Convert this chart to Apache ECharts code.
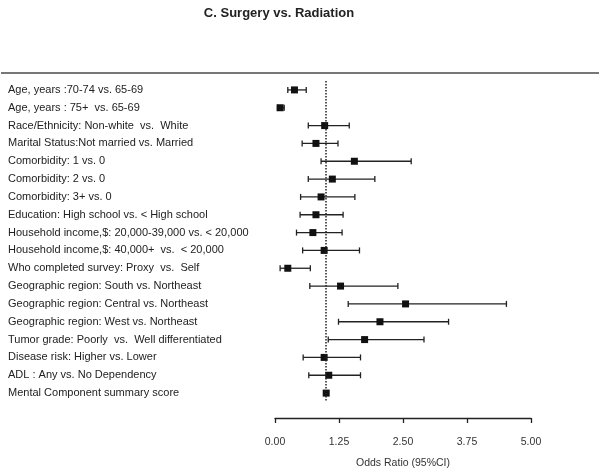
<!DOCTYPE html>
<html>
<head>
<meta charset="utf-8">
<script src="https://cdn.jsdelivr.net/npm/echarts@6/dist/echarts.min.js"></script>
<style>html,body{margin:0;padding:0;background:#fff;}#c{width:600px;height:470px;}</style>
</head>
<body>
<div id="c"></div>
<script>
var labels = [
  "Age, years :70-74 vs. 65-69",
  "Age, years : 75+  vs. 65-69",
  "Race/Ethnicity: Non-white  vs.  White",
  "Marital Status:Not married vs. Married",
  "Comorbidity: 1 vs. 0",
  "Comorbidity: 2 vs. 0",
  "Comorbidity: 3+ vs. 0",
  "Education: High school vs. < High school",
  "Household income,$: 20,000-39,000 vs. < 20,000",
  "Household income,$: 40,000+  vs.  < 20,000",
  "Who completed survey: Proxy  vs.  Self",
  "Geographic region: South vs. Northeast",
  "Geographic region: Central vs. Northeast",
  "Geographic region: West vs. Northeast",
  "Tumor grade: Poorly  vs.  Well differentiated",
  "Disease risk: Higher vs. Lower",
  "ADL : Any vs. No Dependency",
  "Mental Component summary score"
];
var estimate = [0.38, 0.10, 0.97, 0.80, 1.55, 1.12, 0.90, 0.80, 0.74, 0.96, 0.25, 1.28, 2.55, 2.05, 1.75, 0.96, 1.05, 1.00];
var lower    = [0.25, 0.05, 0.65, 0.53, 0.90, 0.65, 0.50, 0.49, 0.42, 0.54, 0.10, 0.68, 1.43, 1.24, 1.04, 0.55, 0.66, 0.98];
var upper    = [0.61, 0.18, 1.45, 1.23, 2.66, 1.95, 1.56, 1.33, 1.31, 1.65, 0.69, 2.40, 4.52, 3.39, 2.91, 1.67, 1.67, 1.02];
var xTicks = [0, 1.25, 2.5, 3.75, 5];
var refValue = 1;

var ciData = labels.map(function (l, i) { return [lower[i], upper[i], i]; });
var ptData = labels.map(function (l, i) { return [estimate[i], i]; });

var chart = echarts.init(document.getElementById('c'));
chart.setOption({
  animation: false,
  backgroundColor: '#fff',
  title: {
    text: 'C. Surgery vs. Radiation',
    left: 274, top: 2, textAlign: 'center',
    textStyle: { fontFamily: 'Liberation Sans', fontSize: 13, fontWeight: 'bold', color: '#222' }
  },
  graphic: [{
    type: 'line', shape: { x1: 1, y1: 73, x2: 599, y2: 73 },
    style: { stroke: '#777', lineWidth: 2 }
  }],
  grid: { left: 275, right: 69, top: 81, bottom: 68, containLabel: false, outerBoundsMode: 'none' },
  xAxis: {
    type: 'value', min: xTicks[0], max: xTicks[xTicks.length - 1], interval: 1.25,
    offset: 16,
    name: 'Odds Ratio (95%CI)', nameLocation: 'middle', nameGap: 40,
    nameTextStyle: { fontFamily: 'Liberation Sans', fontSize: 10.5, color: '#333' },
    axisLine: { show: true, lineStyle: { color: '#222', width: 1.3 } },
    axisTick: { show: true, length: 5, lineStyle: { color: '#222', width: 1.3 } },
    axisLabel: {
      margin: 19, fontFamily: 'Liberation Sans', fontSize: 10.5, color: '#333',
      formatter: function (v) { return v.toFixed(2); }
    },
    splitLine: { show: false }
  },
  yAxis: {
    type: 'category', inverse: true, data: labels,
    axisLine: { show: false }, axisTick: { show: false },
    axisLabel: {
      align: 'left', margin: 267, fontFamily: 'Liberation Sans', fontSize: 11, color: '#222'
    }
  },
  series: [
    {
      type: 'custom',
      data: ciData,
      encode: { x: [0, 1], y: 2 },
      renderItem: function (params, api) {
        var a = api.coord([api.value(0), api.value(2)]);
        var b = api.coord([api.value(1), api.value(2)]);
        var h = 3;
        var st = { stroke: '#222', lineWidth: 1.3 };
        return {
          type: 'group',
          children: [
            { type: 'line', shape: { x1: a[0], y1: a[1], x2: b[0], y2: b[1] }, style: st },
            { type: 'line', shape: { x1: a[0], y1: a[1] - h, x2: a[0], y2: a[1] + h }, style: st },
            { type: 'line', shape: { x1: b[0], y1: b[1] - h, x2: b[0], y2: b[1] + h }, style: st }
          ]
        };
      },
      z: 2
    },
    {
      type: 'scatter',
      data: ptData,
      symbol: 'rect', symbolSize: 7,
      itemStyle: { color: '#111', opacity: 1 },
      z: 3,
      markLine: {
        silent: true, symbol: 'none', label: { show: false },
        lineStyle: { type: 'dotted', color: '#222', width: 1.5 },
        data: [{ xAxis: refValue }]
      }
    }
  ]
});
</script>
</body>
</html>
